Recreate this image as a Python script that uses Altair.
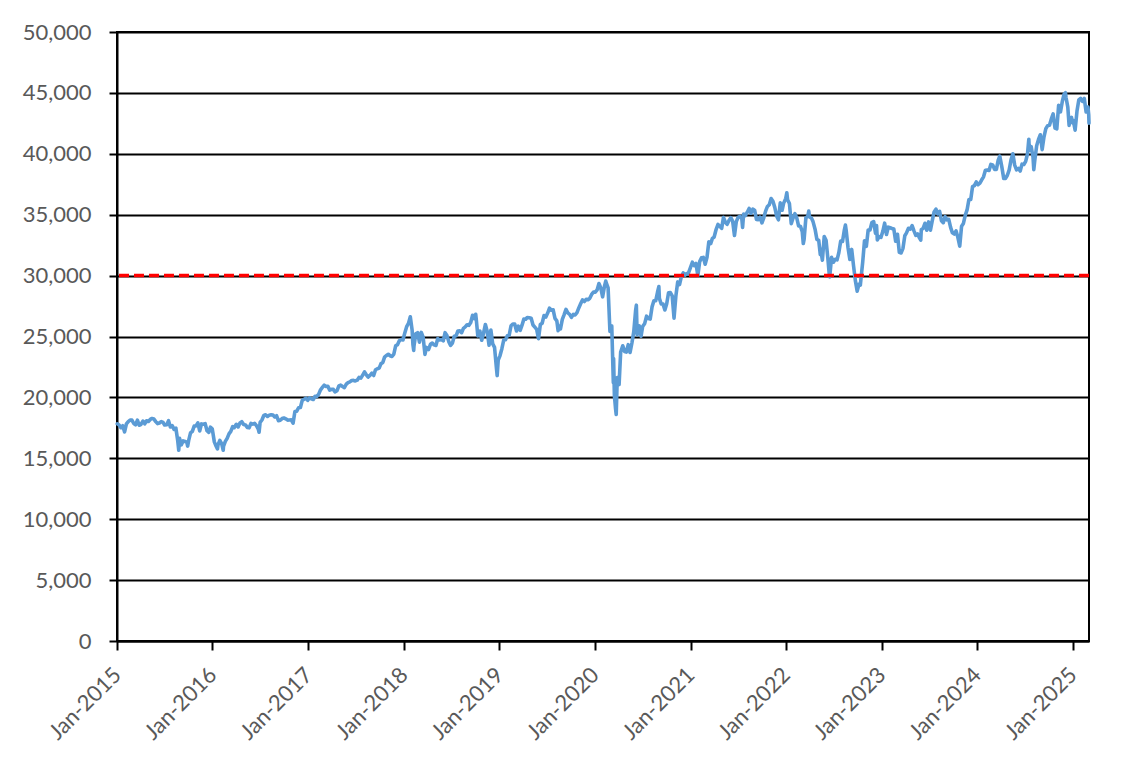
import altair as alt
import pandas as pd

dates = [
    # 2015
    "2015-01-02","2015-01-09","2015-01-16","2015-01-23","2015-01-30","2015-02-06","2015-02-13","2015-02-20","2015-02-27",
    "2015-03-06","2015-03-13","2015-03-20","2015-03-27","2015-04-02","2015-04-10","2015-04-17","2015-04-24","2015-05-01",
    "2015-05-08","2015-05-15","2015-05-22","2015-05-29","2015-06-05","2015-06-12","2015-06-19","2015-06-26","2015-07-02",
    "2015-07-10","2015-07-17","2015-07-24","2015-07-31","2015-08-07","2015-08-14","2015-08-21","2015-08-24","2015-08-25",
    "2015-08-28","2015-09-04","2015-09-11","2015-09-18","2015-09-25","2015-09-28","2015-10-02","2015-10-09","2015-10-16",
    "2015-10-23","2015-10-30","2015-11-06","2015-11-13","2015-11-20","2015-11-27","2015-12-04","2015-12-11","2015-12-18",
    "2015-12-24","2015-12-31",
    # 2016
    "2016-01-08","2016-01-15","2016-01-20","2016-01-22","2016-01-29","2016-02-05","2016-02-11","2016-02-12","2016-02-19",
    "2016-02-26","2016-03-04","2016-03-11","2016-03-18","2016-03-24","2016-04-01","2016-04-08","2016-04-15","2016-04-22",
    "2016-04-29","2016-05-06","2016-05-13","2016-05-20","2016-05-27","2016-06-03","2016-06-10","2016-06-17","2016-06-24",
    "2016-06-27","2016-07-01","2016-07-08","2016-07-15","2016-07-22","2016-07-29","2016-08-05","2016-08-12","2016-08-19",
    "2016-08-26","2016-09-02","2016-09-09","2016-09-16","2016-09-23","2016-09-30","2016-10-07","2016-10-14","2016-10-21",
    "2016-10-28","2016-11-04","2016-11-11","2016-11-18","2016-11-25","2016-12-02","2016-12-09","2016-12-16","2016-12-23",
    "2016-12-30",
    # 2017
    "2017-01-06","2017-01-13","2017-01-20","2017-01-27","2017-02-03","2017-02-10","2017-02-17","2017-02-24","2017-03-03",
    "2017-03-10","2017-03-17","2017-03-24","2017-03-31","2017-04-07","2017-04-13","2017-04-21","2017-04-28","2017-05-05",
    "2017-05-12","2017-05-19","2017-05-26","2017-06-02","2017-06-09","2017-06-16","2017-06-23","2017-06-30","2017-07-07",
    "2017-07-14","2017-07-21","2017-07-28","2017-08-04","2017-08-11","2017-08-18","2017-08-25","2017-09-01","2017-09-08",
    "2017-09-15","2017-09-22","2017-09-29","2017-10-06","2017-10-13","2017-10-20","2017-10-27","2017-11-03","2017-11-10",
    "2017-11-17","2017-11-24","2017-12-01","2017-12-08","2017-12-15","2017-12-22","2017-12-29",
    # 2018
    "2018-01-05","2018-01-12","2018-01-19","2018-01-26","2018-02-02","2018-02-05","2018-02-08","2018-02-09","2018-02-16",
    "2018-02-23","2018-03-02","2018-03-09","2018-03-16","2018-03-23","2018-03-29","2018-04-06","2018-04-13","2018-04-20",
    "2018-04-27","2018-05-04","2018-05-11","2018-05-18","2018-05-25","2018-06-01","2018-06-08","2018-06-15","2018-06-22",
    "2018-06-29","2018-07-06","2018-07-13","2018-07-20","2018-07-27","2018-08-03","2018-08-10","2018-08-17","2018-08-24",
    "2018-08-31","2018-09-07","2018-09-14","2018-09-21","2018-09-28","2018-10-03","2018-10-05","2018-10-11","2018-10-12",
    "2018-10-19","2018-10-26","2018-11-02","2018-11-09","2018-11-16","2018-11-23","2018-11-30","2018-12-07","2018-12-14",
    "2018-12-21","2018-12-24","2018-12-28",
    # 2019
    "2019-01-04","2019-01-11","2019-01-18","2019-01-25","2019-02-01","2019-02-08","2019-02-15","2019-02-22","2019-03-01",
    "2019-03-08","2019-03-15","2019-03-22","2019-03-29","2019-04-05","2019-04-12","2019-04-18","2019-04-26","2019-05-03",
    "2019-05-10","2019-05-17","2019-05-24","2019-05-31","2019-06-07","2019-06-14","2019-06-21","2019-06-28","2019-07-05",
    "2019-07-12","2019-07-19","2019-07-26","2019-08-02","2019-08-09","2019-08-14","2019-08-16","2019-08-23","2019-08-30",
    "2019-09-06","2019-09-13","2019-09-20","2019-09-27","2019-10-04","2019-10-11","2019-10-18","2019-10-25","2019-11-01",
    "2019-11-08","2019-11-15","2019-11-22","2019-11-29","2019-12-06","2019-12-13","2019-12-20","2019-12-27",
    # 2020
    "2020-01-03","2020-01-10","2020-01-17","2020-01-24","2020-01-31","2020-02-07","2020-02-12","2020-02-14","2020-02-21",
    "2020-02-28","2020-03-06","2020-03-12","2020-03-13","2020-03-16","2020-03-20","2020-03-23","2020-03-27","2020-04-03",
    "2020-04-09","2020-04-17","2020-04-24","2020-05-01","2020-05-08","2020-05-15","2020-05-22","2020-05-29","2020-06-05",
    "2020-06-08","2020-06-11","2020-06-12","2020-06-19","2020-06-26","2020-07-02","2020-07-10","2020-07-17","2020-07-24",
    "2020-07-31","2020-08-07","2020-08-14","2020-08-21","2020-08-28","2020-09-02","2020-09-04","2020-09-11","2020-09-18",
    "2020-09-25","2020-10-02","2020-10-09","2020-10-16","2020-10-23","2020-10-30","2020-11-06","2020-11-13","2020-11-20",
    "2020-11-27","2020-12-04","2020-12-11","2020-12-18","2020-12-24","2020-12-31",
    # 2021
    "2021-01-08","2021-01-15","2021-01-22","2021-01-29","2021-02-05","2021-02-12","2021-02-19","2021-02-26","2021-03-05",
    "2021-03-12","2021-03-19","2021-03-26","2021-04-01","2021-04-09","2021-04-16","2021-04-23","2021-04-30","2021-05-07",
    "2021-05-14","2021-05-21","2021-05-28","2021-06-04","2021-06-11","2021-06-18","2021-06-25","2021-07-02","2021-07-09",
    "2021-07-16","2021-07-19","2021-07-23","2021-07-30","2021-08-06","2021-08-13","2021-08-20","2021-08-27","2021-09-03",
    "2021-09-10","2021-09-17","2021-09-24","2021-10-01","2021-10-08","2021-10-15","2021-10-22","2021-10-29","2021-11-05",
    "2021-11-12","2021-11-19","2021-11-26","2021-12-03","2021-12-10","2021-12-17","2021-12-23","2021-12-31",
    # 2022
    "2022-01-04","2022-01-07","2022-01-14","2022-01-21","2022-01-28","2022-02-04","2022-02-11","2022-02-18","2022-02-25",
    "2022-03-04","2022-03-08","2022-03-11","2022-03-18","2022-03-25","2022-03-29","2022-04-01","2022-04-08","2022-04-14",
    "2022-04-22","2022-04-29","2022-05-06","2022-05-12","2022-05-13","2022-05-20","2022-05-27","2022-06-03","2022-06-10",
    "2022-06-16","2022-06-17","2022-06-24","2022-07-01","2022-07-08","2022-07-15","2022-07-22","2022-07-29","2022-08-05",
    "2022-08-12","2022-08-16","2022-08-19","2022-08-26","2022-09-02","2022-09-09","2022-09-16","2022-09-23","2022-09-30",
    "2022-10-07","2022-10-12","2022-10-14","2022-10-21","2022-10-28","2022-11-04","2022-11-11","2022-11-18","2022-11-25",
    "2022-12-02","2022-12-09","2022-12-13","2022-12-16","2022-12-23","2022-12-30",
    # 2023
    "2023-01-06","2023-01-13","2023-01-20","2023-01-27","2023-02-03","2023-02-10","2023-02-17","2023-02-24","2023-03-03",
    "2023-03-10","2023-03-17","2023-03-24","2023-03-31","2023-04-06","2023-04-14","2023-04-21","2023-04-28","2023-05-05",
    "2023-05-12","2023-05-19","2023-05-26","2023-05-31","2023-06-02","2023-06-09","2023-06-16","2023-06-23","2023-06-30",
    "2023-07-07","2023-07-14","2023-07-21","2023-07-28","2023-08-04","2023-08-11","2023-08-18","2023-08-25","2023-09-01",
    "2023-09-08","2023-09-15","2023-09-22","2023-09-29","2023-10-06","2023-10-13","2023-10-20","2023-10-27","2023-11-03",
    "2023-11-10","2023-11-17","2023-11-24","2023-12-01","2023-12-08","2023-12-15","2023-12-22","2023-12-29",
    # 2024
    "2024-01-05","2024-01-12","2024-01-19","2024-01-26","2024-02-02","2024-02-09","2024-02-16","2024-02-23","2024-03-01",
    "2024-03-08","2024-03-15","2024-03-22","2024-03-28","2024-04-05","2024-04-12","2024-04-19","2024-04-26","2024-05-03",
    "2024-05-10","2024-05-17","2024-05-24","2024-05-31","2024-06-07","2024-06-14","2024-06-21","2024-06-28","2024-07-05",
    "2024-07-12","2024-07-17","2024-07-19","2024-07-26","2024-08-02","2024-08-05","2024-08-09","2024-08-16","2024-08-23",
    "2024-08-30","2024-09-06","2024-09-13","2024-09-20","2024-09-27","2024-10-04","2024-10-11","2024-10-18","2024-10-25",
    "2024-11-01","2024-11-08","2024-11-15","2024-11-22","2024-11-29","2024-12-04","2024-12-06","2024-12-13","2024-12-18",
    "2024-12-20","2024-12-27","2024-12-31",
    # 2025
    "2025-01-03","2025-01-10","2025-01-17","2025-01-24","2025-01-31","2025-02-07","2025-02-14","2025-02-21","2025-02-28",
    "2025-03-03","2025-03-04",
]

closes = [
    # 2015
    17833,17737,17511,17673,17165,17825,18019,18140,18133,
    17857,17749,18128,17713,17763,18058,17827,18080,18024,
    18191,18272,18232,18011,17849,17899,18016,17947,17730,
    17760,18086,17568,17690,17373,17477,16460,15871,15666,
    16643,16102,16433,16385,16315,16001,16472,17084,17216,
    17647,17664,17910,17245,17824,17798,17848,17265,17128,
    17553,17425,
    # 2016
    16347,15988,15766,16094,16466,16205,15660,15974,16392,
    16640,17007,17213,17602,17516,17793,17577,17898,18004,
    17774,17740,17535,17501,17873,17807,17865,17675,17400,
    17140,17949,18147,18516,18571,18432,18544,18577,18553,
    18396,18492,18085,18124,18261,18308,18240,18138,18145,
    18161,17888,18847,18868,19152,19171,19757,19843,19934,
    19763,
    # 2017
    19964,19886,19827,20094,20071,20269,20624,20822,21005,
    20903,20915,20597,20663,20656,20453,20548,20941,21007,
    20897,20805,21080,21206,21272,21384,21395,21350,21414,
    21638,21580,21830,22092,21858,21675,21814,21988,21798,
    22268,22350,22405,22774,22871,23329,23434,23539,23422,
    23358,23558,24232,24329,24652,24754,24719,
    # 2018
    25296,25803,26072,26617,25521,24346,23861,24191,25220,
    25310,24538,25336,24947,23533,24103,23933,24360,24463,
    24311,24263,24831,24715,24753,24635,25317,25090,24581,
    24271,24456,25019,25058,25451,25463,25313,25669,25790,
    25965,25917,26155,26744,26458,26828,26447,25053,25340,
    25444,24688,25271,25989,25413,24286,25538,24389,24101,
    22445,21792,23062,
    # 2019
    23433,23996,24706,24737,25064,25106,25883,26031,26026,
    25450,25849,25502,25929,26425,26412,26559,26543,26505,
    25942,25764,25586,24815,25984,26090,26719,26600,26922,
    27332,27154,27192,26485,26287,25480,25886,25629,26403,
    26797,27220,26935,26820,26573,26817,26770,26958,27347,
    27681,28005,27876,28051,28015,28135,28455,28645,
    # 2020
    28634,28823,29348,28990,28256,29103,29551,29398,28992,
    25409,25864,21200,23185,20189,19174,18592,21637,21053,
    23719,24242,23775,23724,24331,23685,24465,25383,27111,
    27572,25128,25606,25871,25016,25827,26075,26672,26470,
    26428,27433,27931,27930,28654,29100,28133,27666,27657,
    27174,27683,28587,28606,28336,26502,28323,29480,29263,
    29910,30218,30046,30179,30200,30606,
    # 2021
    31098,30814,30997,29983,31148,31458,31494,30932,31496,
    32779,32628,33073,33153,33801,34200,34043,33875,34778,
    34382,34208,34529,34756,34480,33290,34433,34786,34870,
    34687,33962,35061,34935,35208,35515,35120,35455,35369,
    34608,34585,34798,34326,34746,35295,35677,35820,36328,
    36100,35602,34899,34580,35971,35365,35950,36338,
    # 2022
    36799,36232,35912,34265,34725,35089,34738,34079,34059,
    33615,32632,32944,34755,34862,35294,34818,34721,34451,
    33811,32977,32899,31730,32197,31262,33213,32900,31393,
    29927,29889,31501,31097,31338,31289,31899,32845,32803,
    33761,34152,33707,32283,31318,32151,30822,29590,28726,
    29297,29211,29635,31083,32861,32403,33748,33746,34347,
    34430,33476,34109,32921,33204,33147,
    # 2023
    33631,34303,33376,33978,33926,33869,33827,32817,33391,
    31910,31862,32238,33274,33485,33886,33809,34098,33674,
    33300,33427,33093,32908,33762,33877,34299,33727,34407,
    33734,34509,35228,35459,35066,35281,34501,34347,34838,
    34577,34618,33964,33508,33408,33670,33127,32418,34061,
    34283,34947,35390,36246,36248,37306,37386,37690,
    # 2024
    37466,37593,37864,38109,38654,38671,38628,39131,39087,
    38723,38715,39476,39807,38904,37983,37986,38240,38676,
    39513,40004,39070,38686,38799,38589,39150,39119,39376,
    40001,41198,40288,40590,39737,38703,39498,40660,41175,
    41563,40345,41394,42063,42313,42353,42864,43276,42114,
    42052,43989,43445,44297,44911,45014,44643,43828,42327,
    42840,42992,42544,
    # 2025
    42732,41938,43488,44424,44545,44303,44546,43428,43841,
    43191,42520,
]

threshold = [30000]
y_ticks = [0, 5000, 10000, 15000, 20000, 25000, 30000, 35000, 40000, 45000, 50000]
tick_years = list(range(2015, 2026))

df = pd.DataFrame({"date": dates, "close": closes})
thr = pd.DataFrame({"level": threshold})

FONT = "Lato"
LABEL_COLOR = "#595959"

x_enc = alt.X(
    "date:T",
    scale=alt.Scale(
        type="utc",
        domain=[alt.DateTime(year=2015, month=1, date=1, utc=True),
                alt.DateTime(year=2025, month=3, date=4, utc=True)],
    ),
    axis=alt.Axis(
        values=[alt.DateTime(year=yr, month=1, date=1, utc=True) for yr in tick_years],
        format="%b-%Y",
        labelAngle=-45,
        labelAlign="right",
        labelBaseline="middle",
        labelPadding=21,
        tickSize=9,
        grid=False,
        title=None,
    ),
)

y_scale = alt.Scale(domain=[0, 50000], nice=False)

line = alt.Chart(df).mark_line(
    color="#5B9BD5", strokeWidth=3.6, strokeJoin="round", strokeCap="round", interpolate="linear"
).encode(
    x=x_enc,
    y=alt.Y(
        "close:Q",
        scale=y_scale,
        axis=alt.Axis(
            values=y_ticks,
            format=",.0f",
            tickSize=8,
            labelPadding=18,
            grid=True,
            title=None,
        ),
    ),
)

rule = alt.Chart(thr).mark_rule(color="#FF0000", strokeWidth=3.5, strokeDash=[10, 5]).encode(
    y=alt.Y("level:Q", scale=y_scale)
)

chart = (
    alt.layer(line, rule)
    .properties(
        width=972,
        height=609,
        autosize=alt.AutoSizeParams(type="none"),
        padding={"left": 109, "top": 24, "right": 48, "bottom": 120},
    )
    .configure(background="white")
    .configure_view(stroke="black", strokeWidth=2)
    .configure_axis(
        domainColor="black",
        domainWidth=2,
        tickColor="black",
        tickWidth=2,
        gridColor="black",
        gridWidth=2,
        gridOpacity=1,
        labelFont=FONT,
        labelFontSize=22,
        labelColor=LABEL_COLOR,
        labelOverlap=False,
    )
)

chart.save("out.html", embed_options={"renderer": "svg", "actions": False})
